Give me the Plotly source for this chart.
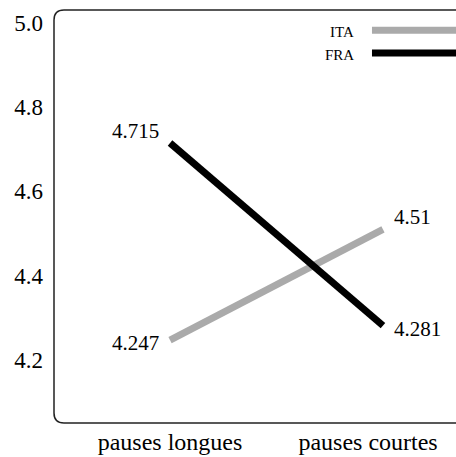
import plotly.graph_objects as go

categories = ["pauses longues", "pauses courtes"]
series_names = ["ITA", "FRA"]
ita_values = [4.247, 4.51]
fra_values = [4.715, 4.281]
y_ticks = [4.2, 4.4, 4.6, 4.8, 5.0]

COLORS = {"ITA": "#aaaaaa", "FRA": "#000000"}
FONT = "Palatino Linotype, Book Antiqua, Palatino, Liberation Serif, serif"
LINE_W = 7

x_pos = [0, 1]
data = {"ITA": ita_values, "FRA": fra_values}

fig = go.Figure()
for name in series_names:
    fig.add_trace(go.Scatter(
        x=x_pos,
        y=data[name],
        mode="lines",
        name=name,
        line=dict(color=COLORS[name], width=LINE_W),
        showlegend=False,
        hoverinfo="skip",
    ))

# value labels: left of the first point, right of the last one
for i, xv in enumerate(x_pos):
    vals = [data[n][i] for n in series_names]
    top = max(vals)
    for name in series_names:
        v = data[name][i]
        fig.add_annotation(
            x=xv, y=v, xref="x", yref="y",
            text=f"{v:g}", showarrow=False,
            xanchor="right" if i == 0 else "left",
            xshift=-9 if i == 0 else 9,
            yshift=12 if v == top else -3,
            font=dict(family=FONT, size=21, color="#000"),
        )

# hand-made legend: text then line sample
for k, name in enumerate(series_names):
    yy = 0.947 - k * 0.055
    fig.add_annotation(
        x=0.75, y=yy, xref="paper", yref="paper",
        text=name, showarrow=False, xanchor="right", yanchor="middle",
        font=dict(family=FONT, size=15, color="#000"),
    )
    fig.add_shape(type="line", xref="paper", yref="paper",
                  x0=0.791, x1=1.02, y0=yy + 0.004, y1=yy + 0.004,
                  line=dict(color=COLORS[name], width=LINE_W))

# rounded frame open to the right
rx, ry = 10 / 402, 10 / 413
fig.add_shape(
    type="path", xref="paper", yref="paper",
    path=(f"M 1.05 1 L {rx} 1 Q 0 1 0 {1 - ry} L 0 {ry} "
          f"Q 0 0 {rx} 0 L 1.05 0"),
    line=dict(color="#222", width=1.5),
)

fig.update_layout(
    width=456, height=457,
    margin=dict(l=54, r=0, t=10, b=34),
    plot_bgcolor="white", paper_bgcolor="white",
    font=dict(family=FONT, size=21, color="#000"),
    xaxis=dict(
        range=[-0.545, 1.343],
        tickvals=[0, 0.93], ticktext=categories,
        showgrid=False, zeroline=False, showline=False,
        ticks="", ticklabelstandoff=2, automargin=False,
        tickfont=dict(size=24),
    ),
    yaxis=dict(
        range=[4.0499, 5.0309],
        tickvals=y_ticks, ticktext=[f"{t:.1f}" for t in y_ticks],
        showgrid=False, zeroline=False, showline=False,
        ticks="", ticklabelstandoff=10, automargin=False,
        tickfont=dict(size=23),
    ),
)

fig.write_html("out.html", config={"displayModeBar": False},
               post_script="document.body.style.margin='0';")
